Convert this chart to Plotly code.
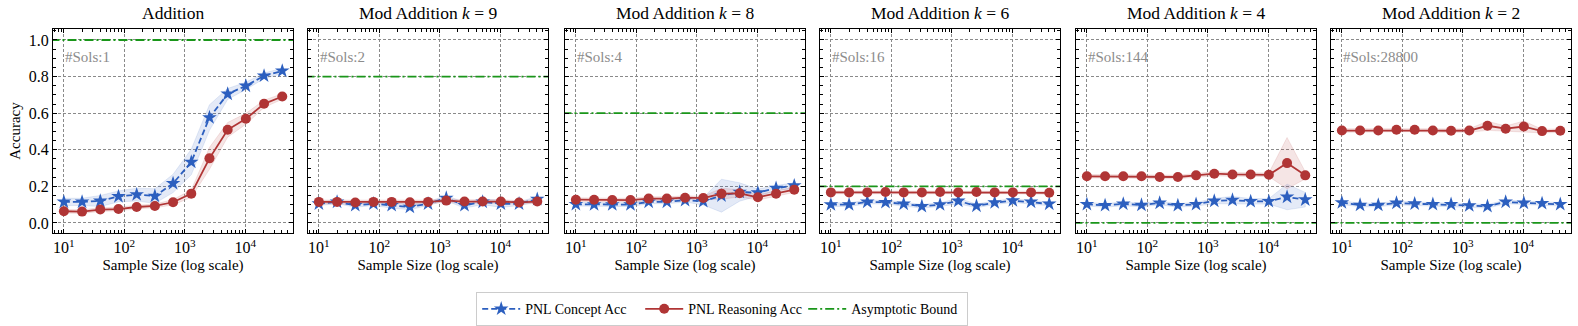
import plotly.graph_objects as go

sample_sizes = [10, 20, 40, 80, 160, 320, 640, 1280, 2560, 5120, 10240, 20480, 40960]

titles = ["Addition", "Mod Addition <i>k</i> = 9", "Mod Addition <i>k</i> = 8",
          "Mod Addition <i>k</i> = 6", "Mod Addition <i>k</i> = 4", "Mod Addition <i>k</i> = 2"]
sols_labels = ["#Sols:1", "#Sols:2", "#Sols:4", "#Sols:16", "#Sols:144", "#Sols:28800"]
asymptotic_bound = [1.0, 0.8, 0.6, 0.2, 0.0, 0.0]

concept_acc = [
    [0.115, 0.115, 0.12, 0.145, 0.155, 0.147, 0.216, 0.333, 0.576, 0.705, 0.749, 0.804, 0.831],
    [0.105, 0.115, 0.096, 0.105, 0.096, 0.087, 0.105, 0.136, 0.096, 0.115, 0.105, 0.105, 0.13],
    [0.102, 0.100, 0.100, 0.100, 0.115, 0.115, 0.124, 0.118, 0.149, 0.169, 0.165, 0.19, 0.204],
    [0.100, 0.100, 0.115, 0.113, 0.104, 0.091, 0.100, 0.120, 0.093, 0.111, 0.122, 0.115, 0.104],
    [0.102, 0.096, 0.104, 0.098, 0.109, 0.096, 0.102, 0.120, 0.125, 0.118, 0.118, 0.142, 0.127],
    [0.111, 0.098, 0.098, 0.109, 0.105, 0.102, 0.102, 0.095, 0.091, 0.115, 0.109, 0.107, 0.102],
]
concept_std = [
    [0.02, 0.02, 0.03, 0.03, 0.035, 0.04, 0.05, 0.07, 0.07, 0.03, 0.02, 0.015, 0.015],
    [0.01, 0.01, 0.01, 0.01, 0.015, 0.015, 0.01, 0.015, 0.015, 0.015, 0.02, 0.01, 0.015],
    [0.01, 0.01, 0.01, 0.01, 0.01, 0.01, 0.01, 0.02, 0.09, 0.05, 0.02, 0.015, 0.015],
    [0.01, 0.01, 0.01, 0.01, 0.01, 0.01, 0.01, 0.015, 0.01, 0.01, 0.01, 0.01, 0.01],
    [0.01, 0.01, 0.01, 0.01, 0.01, 0.01, 0.01, 0.015, 0.02, 0.015, 0.015, 0.07, 0.04],
    [0.01, 0.01, 0.01, 0.01, 0.01, 0.01, 0.01, 0.01, 0.01, 0.01, 0.01, 0.01, 0.01],
]
reasoning_acc = [
    [0.064, 0.062, 0.073, 0.076, 0.087, 0.093, 0.113, 0.160, 0.353, 0.509, 0.569, 0.651, 0.691],
    [0.115, 0.115, 0.112, 0.115, 0.115, 0.113, 0.115, 0.122, 0.117, 0.117, 0.117, 0.112, 0.117],
    [0.127, 0.127, 0.125, 0.125, 0.133, 0.133, 0.138, 0.136, 0.160, 0.162, 0.140, 0.160, 0.182],
    [0.167, 0.167, 0.167, 0.169, 0.167, 0.167, 0.169, 0.167, 0.169, 0.167, 0.167, 0.167, 0.165],
    [0.255, 0.255, 0.255, 0.255, 0.251, 0.251, 0.260, 0.269, 0.265, 0.265, 0.263, 0.327, 0.260],
    [0.505, 0.505, 0.505, 0.509, 0.509, 0.505, 0.504, 0.505, 0.531, 0.515, 0.527, 0.502, 0.504],
]
reasoning_std = [
    [0.01, 0.01, 0.01, 0.01, 0.01, 0.01, 0.015, 0.02, 0.06, 0.04, 0.03, 0.02, 0.015],
    [0.01, 0.01, 0.01, 0.01, 0.01, 0.01, 0.01, 0.01, 0.01, 0.01, 0.01, 0.01, 0.01],
    [0.01, 0.01, 0.01, 0.01, 0.01, 0.01, 0.01, 0.01, 0.03, 0.02, 0.015, 0.015, 0.015],
    [0.008, 0.008, 0.008, 0.008, 0.008, 0.008, 0.008, 0.008, 0.008, 0.008, 0.008, 0.008, 0.008],
    [0.01, 0.01, 0.01, 0.01, 0.01, 0.01, 0.01, 0.012, 0.01, 0.01, 0.01, 0.14, 0.02],
    [0.01, 0.01, 0.01, 0.01, 0.01, 0.01, 0.01, 0.01, 0.025, 0.015, 0.03, 0.01, 0.01],
]

xtick_vals = [10, 100, 1000, 10000]
xtick_text = ["10<sup>1</sup>", "10<sup>2</sup>", "10<sup>3</sup>", "10<sup>4</sup>"]
ytick_vals = [0.0, 0.2, 0.4, 0.6, 0.8, 1.0]
ytick_text = ["0.0", "0.2", "0.4", "0.6", "0.8", "1.0"]

BLUE = "#2c5fbf"
RED = "#b03535"
GREEN = "#1a961a"
FONT = "Liberation Serif, Times New Roman, serif"

W, H = 1578, 326
panel_left = [53, 308, 565, 820, 1076, 1331]
panel_w = 240
y_top, y_bot = 29, 233

fig = go.Figure()

for i in range(6):
    ax = "" if i == 0 else str(i + 1)
    xref, yref = "x" + ax, "y" + ax
    x = sample_sizes
    c, cs = concept_acc[i], concept_std[i]
    r, rs = reasoning_acc[i], reasoning_std[i]
    fig.add_trace(go.Scatter(
        x=x + x[::-1], y=[a + s for a, s in zip(c, cs)] + [a - s for a, s in zip(c, cs)][::-1],
        fill="toself", fillcolor="rgba(44,95,191,0.13)", line=dict(color="rgba(44,95,191,0.15)", width=0.8),
        hoverinfo="skip", showlegend=False, xaxis=xref, yaxis=yref, mode="lines"))
    fig.add_trace(go.Scatter(
        x=x + x[::-1], y=[a + s for a, s in zip(r, rs)] + [a - s for a, s in zip(r, rs)][::-1],
        fill="toself", fillcolor="rgba(176,53,53,0.13)", line=dict(color="rgba(176,53,53,0.15)", width=0.8),
        hoverinfo="skip", showlegend=False, xaxis=xref, yaxis=yref, mode="lines"))
    fig.add_trace(go.Scatter(
        x=[6, 70000], y=[asymptotic_bound[i]] * 2, mode="lines",
        line=dict(color=GREEN, width=1.8, dash="9px,3px,2px,3px"),
        name="Asymptotic Bound", showlegend=False, xaxis=xref, yaxis=yref, legendrank=3))
    fig.add_trace(go.Scatter(
        x=x, y=c, mode="lines+markers", name="PNL Concept Acc",
        line=dict(color=BLUE, width=1.8, dash="6px,3px"),
        marker=dict(symbol="star", size=11, color=BLUE),
        showlegend=(i == 0), xaxis=xref, yaxis=yref, legendrank=1))
    fig.add_trace(go.Scatter(
        x=x, y=r, mode="lines+markers", name="PNL Reasoning Acc",
        line=dict(color=RED, width=1.8),
        marker=dict(symbol="circle", size=10, color=RED),
        showlegend=(i == 0), xaxis=xref, yaxis=yref, legendrank=2))
    if i == 0:
        fig.add_trace(go.Scatter(
            x=[None], y=[None], mode="lines", name="Asymptotic Bound",
            line=dict(color=GREEN, width=1.8, dash="9px,3px,2px,3px"), legendrank=3))

    x0 = panel_left[i] / W
    x1 = (panel_left[i] + panel_w) / W
    axis_common = dict(showline=True, linecolor="black", linewidth=1.2, mirror="allticks",
                       ticks="inside", tickcolor="black", ticklen=4, tickwidth=0.8,
                       showgrid=True, gridcolor="#8a8a8a", griddash="3px,2px", gridwidth=0.7,
                       zeroline=False, tickfont=dict(family=FONT, size=16, color="black"))
    fig.layout["xaxis" + ax] = dict(
        domain=[x0, x1], type="log", range=[0.82, 4.79], anchor=yref,
        tickvals=xtick_vals, ticktext=xtick_text,
        minor=dict(ticks="inside", ticklen=2.5, tickcolor="black", tickwidth=0.7,
                   tickvals=[v * m for v in [1, 10, 100, 1000, 10000] for m in range(2, 10)], showgrid=False),
        title=dict(text="Sample Size (log scale)", font=dict(family=FONT, size=15, color="black"), standoff=4),
        **axis_common)
    fig.layout["yaxis" + ax] = dict(
        domain=[(H - y_bot) / H, (H - y_top) / H], range=[-0.055, 1.06], anchor=xref,
        tickvals=ytick_vals, ticktext=ytick_text if i == 0 else [""] * 6,
        minor=dict(ticks="inside", ticklen=2.5, tickcolor="black", tickwidth=0.7, dtick=0.05, showgrid=False),
        title=dict(text="Accuracy" if i == 0 else "", font=dict(family=FONT, size=15, color="black"), standoff=4),
        **axis_common)
    fig.add_annotation(x=0.04, y=0.863, xref=xref + " domain", yref=yref + " domain",
                       text=sols_labels[i], showarrow=False, xanchor="left", yanchor="middle",
                       font=dict(family=FONT, size=15, color="#8c8c8c"))
    fig.add_annotation(x=(x0 + x1) / 2, y=(H - 13) / H, xref="paper", yref="paper",
                       text=titles[i], showarrow=False, xanchor="center", yanchor="middle",
                       font=dict(family=FONT, size=17.5, color="black"))

fig.update_layout(
    width=W, height=H, margin=dict(l=0, r=0, t=0, b=0),
    plot_bgcolor="white", paper_bgcolor="white",
    font=dict(family=FONT, color="black"),
    legend=dict(orientation="h", x=722 / W, xanchor="center", y=(H - 292) / H, yanchor="top",
                bordercolor="#cccccc", borderwidth=1.2, font=dict(family=FONT, size=14, color="black"),
                itemwidth=38, tracegroupgap=0, entrywidth=110),
)

fig.write_html("out.html", config={"displayModeBar": False},
               post_script="document.body.style.margin='0';document.body.style.overflow='hidden';")
